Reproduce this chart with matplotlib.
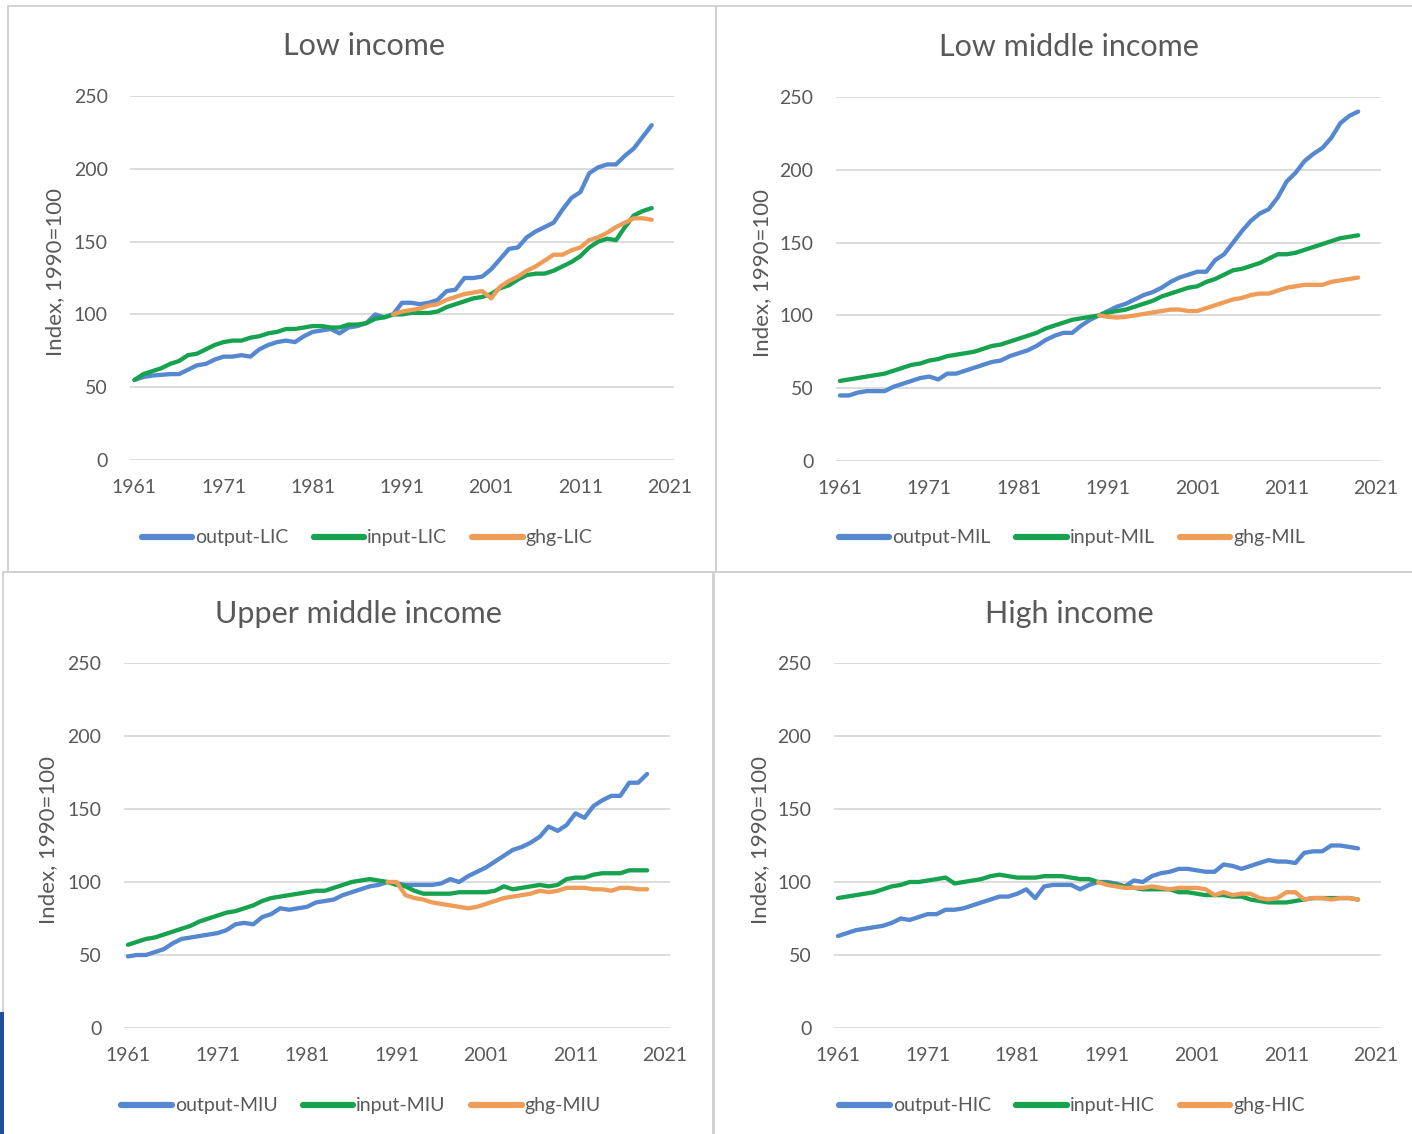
import matplotlib
matplotlib.use('Agg')
import matplotlib.pyplot as plt
from matplotlib.patches import Rectangle

plt.rcParams['font.family'] = ['Lato', 'DejaVu Sans']

years = list(range(1961, 2020))
years_ghg = list(range(1990, 2020))

# Low income
output_lic = [55, 57, 58, 58.5, 59, 59, 62, 65, 66, 69,
              71, 71, 72, 71, 76, 79, 81, 82, 81, 85,
              88, 89, 90, 87, 91, 92, 94, 100, 98, 100,
              108, 108, 107, 108, 110, 116, 117, 125, 125, 126,
              131, 138, 145, 146, 153, 157, 160, 163, 172, 180,
              184, 197, 201, 203, 203, 209, 214, 222, 230]
input_lic = [55, 59, 61, 63, 66, 68, 72, 73, 76, 79,
             81, 82, 82, 84, 85, 87, 88, 90, 90, 91,
             92, 92, 91, 91, 93, 93, 94, 97, 98, 100,
             100, 101, 101, 101, 102, 105, 107, 109, 111, 112,
             114, 118, 120, 124, 127, 128, 128, 130, 133, 136,
             140, 146, 150, 152, 151, 160, 168, 171, 173]
ghg_lic = [100, 102, 103, 104, 106, 107, 110, 112, 114, 115,
           116, 111, 119, 123, 126, 130, 133, 137, 141, 141,
           144, 146, 151, 153, 156, 160, 163, 166, 166, 165]

# Low middle income
output_mil = [45, 45, 47, 48, 48, 48, 51, 53, 55, 57,
              58, 56, 60, 60, 62, 64, 66, 68, 69, 72,
              74, 76, 79, 83, 86, 88, 88, 93, 97, 100,
              103, 106, 108, 111, 114, 116, 119, 123, 126, 128,
              130, 130, 138, 142, 150, 158, 165, 170, 173, 181,
              192, 198, 206, 211, 215, 222, 232, 237, 240]
input_mil = [55, 56, 57, 58, 59, 60, 62, 64, 66, 67,
             69, 70, 72, 73, 74, 75, 77, 79, 80, 82,
             84, 86, 88, 91, 93, 95, 97, 98, 99, 100,
             102, 103, 104, 106, 108, 110, 113, 115, 117, 119,
             120, 123, 125, 128, 131, 132, 134, 136, 139, 142,
             142, 143, 145, 147, 149, 151, 153, 154, 155]
ghg_mil = [100, 99, 98.5, 99, 100, 101, 102, 103, 104, 104,
           103, 103, 105, 107, 109, 111, 112, 114, 115, 115,
           117, 119, 120, 121, 121, 121, 123, 124, 125, 126]

# Upper middle income
output_miu = [49, 50, 50, 52, 54, 58, 61, 62, 63, 64,
              65, 67, 71, 72, 71, 76, 78, 82, 81, 82,
              83, 86, 87, 88, 91, 93, 95, 97, 98, 100,
              99, 98, 98, 98, 98, 99, 102, 100, 104, 107,
              110, 114, 118, 122, 124, 127, 131, 138, 135, 139,
              147, 144, 152, 156, 159, 159, 168, 168, 174]
input_miu = [57, 59, 61, 62, 64, 66, 68, 70, 73, 75,
             77, 79, 80, 82, 84, 87, 89, 90, 91, 92,
             93, 94, 94, 96, 98, 100, 101, 102, 101, 100,
             98, 97, 94, 92, 92, 92, 92, 93, 93, 93,
             93, 94, 97, 95, 96, 97, 98, 97, 98, 102,
             103, 103, 105, 106, 106, 106, 108, 108, 108]
ghg_miu = [100, 100, 91, 89, 88, 86, 85, 84, 83, 82,
           83, 85, 87, 89, 90, 91, 92, 94, 93, 94,
           96, 96, 96, 95, 95, 94, 96, 96, 95, 95]

# High income
output_hic = [63, 65, 67, 68, 69, 70, 72, 75, 74, 76,
              78, 78, 81, 81, 82, 84, 86, 88, 90, 90,
              92, 95, 89, 97, 98, 98, 98, 95, 98, 100,
              100, 99, 97, 101, 100, 104, 106, 107, 109, 109,
              108, 107, 107, 112, 111, 109, 111, 113, 115, 114,
              114, 113, 120, 121, 121, 125, 125, 124, 123]
input_hic = [89, 90, 91, 92, 93, 95, 97, 98, 100, 100,
             101, 102, 103, 99, 100, 101, 102, 104, 105, 104,
             103, 103, 103, 104, 104, 104, 103, 102, 102, 100,
             99, 98, 97, 96, 95, 95, 95, 95, 93, 93,
             92, 91, 91, 91, 90, 90, 88, 87, 86, 86,
             86, 87, 88, 89, 89, 89, 89, 89, 88]
ghg_hic = [100, 98, 97, 96, 96, 96, 97, 96, 95, 96,
           96, 96, 95, 91, 93, 91, 92, 92, 89, 88,
           89, 93, 93, 88, 89, 89, 88, 89, 89, 88]

azul = '#5588D0'
verde = '#16A24E'
naranja = '#EF9C58'
gris = '#595959'

W, H = 1412, 1134
fig = plt.figure(figsize=(W / 100, H / 100), dpi=100)


def fx(px):
    return px / W


def fy(py):
    return 1 - py / H


def panel(rect, titulo, tcx, tcy, ylx, lcx, lcy, output, input_, ghg, sufijo):
    # rect: left, right, top, bottom in pixels
    l, r, t, b = rect
    ax = fig.add_axes([fx(l), fy(b), fx(r - l), (b - t) / H])
    ax.plot(years, output, color=azul, lw=3.1, label='output-' + sufijo, solid_capstyle='round')
    ax.plot(years, input_, color=verde, lw=3.1, label='input-' + sufijo, solid_capstyle='round')
    ax.plot(years_ghg, ghg, color=naranja, lw=3.1, label='ghg-' + sufijo, solid_capstyle='round')
    ax.set_xlim(1960.5, 2021.5)
    ax.set_ylim(0, 250)
    ax.set_yticks([0, 50, 100, 150, 200, 250])
    ax.set_xticks(list(range(1961, 2022, 10)))
    ax.grid(axis='y', color='#D9D9D9', lw=1.3)
    ax.set_axisbelow(True)
    for s in ax.spines.values():
        s.set_visible(False)
    ax.tick_params(length=0, labelsize=14, colors=gris, labelcolor=gris)
    ax.tick_params(axis='y', pad=16)
    ax.tick_params(axis='x', pad=14)
    fig.text(fx(tcx), fy(tcy), titulo, ha='center', va='center', fontsize=22, color=gris)
    fig.text(fx(ylx), (fy(b) + fy(t)) / 2 + 0.005, 'Index, 1990=100', rotation=90,
             ha='center', va='center', fontsize=16, color=gris)
    leg = ax.legend(loc='center', bbox_to_anchor=(fx(lcx), fy(lcy)), bbox_transform=fig.transFigure,
                    ncol=3, frameon=False, fontsize=14, handlelength=2.6, handletextpad=0.15,
                    columnspacing=1.3)
    for h in leg.get_lines():
        h.set_linewidth(4.5)
        h.set_solid_capstyle('round')
    for txt in leg.get_texts():
        txt.set_color(gris)
    return ax


panel((130, 674, 96, 460), 'Low income', 364, 46, 55, 367, 538,
      output_lic, input_lic, ghg_lic, 'LIC')
panel((835.5, 1380.5, 97, 461), 'Low middle income', 1069, 47, 762, 1072, 538,
      output_mil, input_mil, ghg_mil, 'MIL')
panel((123.5, 669.5, 663, 1028), 'Upper middle income', 358, 614, 48, 361, 1106,
      output_miu, input_miu, ghg_miu, 'MIU')
panel((833.5, 1380.5, 663, 1028), 'High income', 1069, 614, 760, 1072, 1106,
      output_hic, input_hic, ghg_hic, 'HIC')

# bordes de los paneles
bordes = [(8, 6, 716, 572), (716, 6, 1430, 572), (3, 572, 713, 1150), (714, 572, 1430, 1150)]
for x0, y0, x1, y1 in bordes:
    fig.patches.append(Rectangle((fx(x0), fy(y1)), fx(x1 - x0), (y1 - y0) / H, transform=fig.transFigure,
                                 fill=False, edgecolor='#D0D0D0', lw=1.3, zorder=0))

# borde azul en la esquina
fig.patches.append(Rectangle((0, 0), fx(4), (1134 - 1012) / H, transform=fig.transFigure,
                             facecolor='#1F4E9A', edgecolor='none'))

plt.savefig('out.png', dpi=100)
